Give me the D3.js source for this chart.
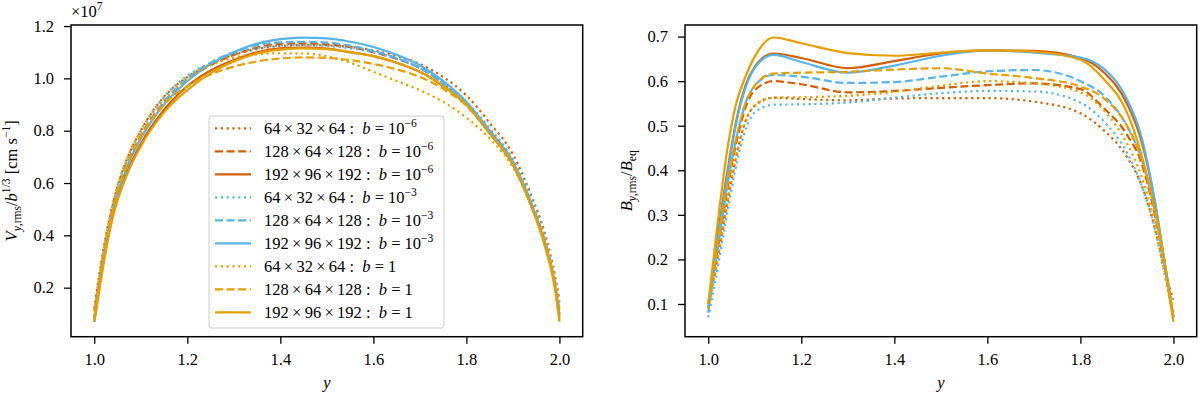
<!DOCTYPE html>
<html>
<head>
<meta charset="utf-8">
<script src="https://cdn.jsdelivr.net/npm/d3@7"></script>
<style>
  body { margin: 0; background: #fff; }
  svg text { white-space: pre; }
</style>
</head>
<body>
<script>
// y positions (horizontal axis) for each panel
const yGridV = [1.0, 1.01, 1.02, 1.04, 1.07, 1.1, 1.15, 1.2, 1.25, 1.3, 1.35, 1.4, 1.45, 1.5, 1.55, 1.6, 1.65, 1.7, 1.75, 1.8, 1.85, 1.9, 1.94, 1.97, 1.99, 2.0];
const yGridB = [1.0, 1.02, 1.04, 1.06, 1.08, 1.1, 1.14, 1.2, 1.3, 1.4, 1.5, 1.6, 1.7, 1.8, 1.85, 1.9, 1.93, 1.96, 1.98, 2.0];

// left panel: V_y,rms / b^(1/3), units of 1e7
const v64_m6  = [0.12,0.24,0.35,0.52,0.69,0.80,0.93,1.005,1.055,1.09,1.112,1.124,1.127,1.126,1.12,1.107,1.085,1.055,1.005,0.935,0.83,0.71,0.55,0.40,0.25,0.15];
const v128_m6 = [0.08,0.21,0.32,0.50,0.67,0.78,0.91,0.995,1.05,1.09,1.118,1.132,1.134,1.13,1.12,1.10,1.075,1.04,0.98,0.90,0.80,0.68,0.52,0.37,0.22,0.11];
const v192_m6 = [0.07,0.19,0.30,0.48,0.64,0.75,0.88,0.97,1.03,1.07,1.10,1.115,1.118,1.114,1.10,1.085,1.06,1.025,0.97,0.90,0.79,0.67,0.51,0.36,0.21,0.09];
const v64_m3  = [0.11,0.23,0.34,0.52,0.69,0.80,0.93,1.01,1.06,1.095,1.115,1.125,1.127,1.124,1.115,1.10,1.075,1.04,0.985,0.91,0.81,0.69,0.54,0.39,0.24,0.14];
const v128_m3 = [0.08,0.21,0.32,0.50,0.67,0.78,0.91,1.0,1.06,1.10,1.127,1.138,1.140,1.137,1.125,1.105,1.078,1.04,0.98,0.90,0.79,0.67,0.51,0.36,0.21,0.10];
const v192_m3 = [0.07,0.20,0.31,0.49,0.66,0.77,0.90,0.99,1.055,1.10,1.133,1.150,1.156,1.153,1.14,1.12,1.09,1.05,0.99,0.91,0.80,0.68,0.52,0.36,0.21,0.10];
const v64_b1  = [0.11,0.23,0.34,0.52,0.69,0.80,0.92,1.0,1.05,1.08,1.092,1.096,1.095,1.085,1.06,1.025,0.99,0.955,0.91,0.85,0.77,0.66,0.51,0.37,0.23,0.12];
const v128_b1 = [0.08,0.21,0.32,0.50,0.67,0.78,0.90,0.97,1.015,1.045,1.065,1.076,1.08,1.078,1.07,1.055,1.035,1.005,0.96,0.895,0.79,0.67,0.51,0.36,0.21,0.08];
const v192_b1 = [0.07,0.18,0.29,0.47,0.63,0.74,0.87,0.955,1.02,1.065,1.095,1.11,1.115,1.112,1.10,1.085,1.06,1.025,0.97,0.90,0.79,0.67,0.51,0.35,0.20,0.07];

// right panel: B_y,rms / B_eq
const b64_m6  = [0.10,0.20,0.32,0.43,0.51,0.545,0.563,0.56,0.557,0.561,0.562,0.562,0.554,0.528,0.49,0.43,0.37,0.27,0.18,0.11];
const b128_m6 = [0.10,0.22,0.35,0.46,0.54,0.58,0.60,0.593,0.575,0.578,0.585,0.591,0.595,0.582,0.54,0.48,0.42,0.30,0.19,0.07];
const b192_m6 = [0.09,0.25,0.39,0.51,0.59,0.632,0.662,0.652,0.629,0.645,0.662,0.669,0.668,0.652,0.62,0.55,0.47,0.33,0.20,0.07];
const b64_m3  = [0.07,0.18,0.30,0.41,0.49,0.53,0.547,0.548,0.552,0.563,0.573,0.578,0.577,0.552,0.51,0.44,0.37,0.27,0.17,0.07];
const b128_m3 = [0.09,0.22,0.36,0.47,0.55,0.59,0.614,0.61,0.596,0.598,0.61,0.622,0.625,0.60,0.568,0.50,0.43,0.31,0.20,0.07];
const b192_m3 = [0.08,0.24,0.38,0.505,0.585,0.63,0.659,0.643,0.619,0.635,0.657,0.669,0.664,0.653,0.628,0.56,0.48,0.33,0.20,0.07];
const b64_b1  = [0.09,0.20,0.32,0.43,0.51,0.545,0.563,0.564,0.567,0.576,0.59,0.60,0.595,0.575,0.535,0.46,0.39,0.28,0.18,0.08];
const b128_b1 = [0.10,0.23,0.36,0.47,0.55,0.59,0.617,0.619,0.621,0.626,0.629,0.617,0.607,0.588,0.562,0.50,0.43,0.31,0.20,0.07];
const b192_b1 = [0.10,0.28,0.44,0.55,0.61,0.655,0.698,0.685,0.663,0.657,0.664,0.669,0.666,0.648,0.605,0.53,0.44,0.31,0.19,0.06];

const resolutions = ["64\u2009×\u200932\u2009×\u200964", "128\u2009×\u200964\u2009×\u2009128", "192\u2009×\u200996\u2009×\u2009192"];
const bValues = [{ base: "10", exp: "\u22126" }, { base: "10", exp: "\u22123" }, { base: "1", exp: "" }];
const colors = ["#D55E00", "#56B4E9", "#E69F00"];
const dashes = ["2.2,3.6", "8,3.6", null];

const xTicks = [1.0, 1.2, 1.4, 1.6, 1.8, 2.0];
const vTicks = [0.2, 0.4, 0.6, 0.8, 1.0, 1.2];
const bTicks = [0.1, 0.2, 0.3, 0.4, 0.5, 0.6, 0.7];

const vSeries = [v64_m6, v128_m6, v192_m6, v64_m3, v128_m3, v192_m3, v64_b1, v128_b1, v192_b1];
const bSeries = [b64_m6, b128_m6, b192_m6, b64_m3, b128_m3, b192_m3, b64_b1, b128_b1, b192_b1];

const FS = 16.5;
const SERIF = '"Liberation Serif", serif';

const svg = d3.select("body").append("svg")
  .attr("width", 1200)
  .attr("height", 397)
  .style("font-family", SERIF);

// writes text with italic / super / sub parts
function rich(sel, parts, size) {
  let shift = 0;
  sel.style("font-family", SERIF);
  parts.forEach(p => {
    const target = p.sup ? -0.4 * size : p.sub ? 0.22 * size : 0;
    sel.append("tspan")
      .attr("dy", target - shift)
      .style("font-family", SERIF)
      .style("font-size", (p.sup || p.sub ? size * 0.7 : size) + "px")
      .style("font-style", p.i ? "italic" : "normal")
      .text(p.t);
    shift = target;
  });
}

function panel(box, yDomain, yTicks, xs, series) {
  const x = d3.scaleLinear().domain([0.95, 2.05]).range([box.left, box.right]);
  const y = d3.scaleLinear().domain(yDomain).range([box.bottom, box.top]);

  const g = svg.append("g");

  const clipId = "clip" + Math.round(box.left);
  g.append("clipPath").attr("id", clipId)
    .append("rect")
    .attr("x", box.left).attr("y", box.top)
    .attr("width", box.right - box.left).attr("height", box.bottom - box.top);

  const line = d3.line()
    .x((d, i) => x(xs[i]))
    .y(d => y(d))
    .curve(d3.curveMonotoneX);

  g.append("g").attr("clip-path", `url(#${clipId})`)
    .selectAll("path")
    .data(series)
    .join("path")
    .attr("d", d => line(d))
    .attr("fill", "none")
    .attr("stroke", (d, i) => colors[Math.floor(i / 3)])
    .attr("stroke-width", 2.2)
    .attr("stroke-dasharray", (d, i) => dashes[i % 3]);

  const xAxis = g.append("g")
    .attr("transform", `translate(0,${box.bottom})`)
    .call(d3.axisBottom(x).tickValues(xTicks).tickFormat(d3.format(".1f")).tickSize(7).tickPadding(10));
  const yAxis = g.append("g")
    .attr("transform", `translate(${box.left},0)`)
    .call(d3.axisLeft(y).tickValues(yTicks).tickFormat(d3.format(".1f")).tickSize(7).tickPadding(10));

  [xAxis, yAxis].forEach(a => {
    a.attr("font-family", null).attr("font-size", null);
    a.select(".domain").remove();
    a.selectAll("line").attr("stroke", "#000").attr("stroke-width", 1.3);
    a.selectAll("text").style("font-size", FS + "px").style("font-family", SERIF).attr("fill", "#000");
  });

  g.append("rect")
    .attr("x", box.left).attr("y", box.top)
    .attr("width", box.right - box.left).attr("height", box.bottom - box.top)
    .attr("fill", "none").attr("stroke", "#000").attr("stroke-width", 1.5);

  // axis label under the panel
  g.append("text")
    .attr("x", (box.left + box.right) / 2).attr("y", 388)
    .attr("text-anchor", "middle")
    .style("font-family", SERIF)
    .style("font-size", FS + "px").style("font-style", "italic")
    .text("y");

  return g;
}

const left = { left: 71, top: 25, right: 582.7, bottom: 336.7 };
const right = { left: 685, top: 25, right: 1196.7, bottom: 336.7 };

const gl = panel(left, [0.0126, 1.204], vTicks, yGridV, vSeries);
const gr = panel(right, [0.0266, 0.726], bTicks, yGridB, bSeries);

// offset text above left axis
rich(gl.append("text").attr("x", 71).attr("y", 17), [{ t: "×10" }, { t: "7", sup: true }], FS);

// y labels
rich(gl.append("text")
  .attr("transform", `translate(17,${(left.top + left.bottom) / 2}) rotate(-90)`)
  .attr("text-anchor", "middle"),
  [{ t: "V", i: true }, { t: "y", i: true, sub: true }, { t: ",rms", sub: true }, { t: "/" }, { t: "b", i: true },
   { t: "1/3", sup: true }, { t: " [cm s" }, { t: "\u22121", sup: true }, { t: "]" }], FS);

rich(gr.append("text")
  .attr("transform", `translate(632,${(right.top + right.bottom) / 2}) rotate(-90)`)
  .attr("text-anchor", "middle"),
  [{ t: "B", i: true }, { t: "y", i: true, sub: true }, { t: ",rms", sub: true }, { t: "/" }, { t: "B", i: true },
   { t: "eq", sub: true }], FS);

// legend
const lg = gl.append("g");
lg.append("rect")
  .attr("x", 209).attr("y", 116).attr("width", 235).attr("height", 212).attr("rx", 3)
  .attr("fill", "#fff").attr("fill-opacity", 0.8)
  .attr("stroke", "#cccccc").attr("stroke-width", 1);

const legendItems = [];
bValues.forEach((b, bi) => resolutions.forEach((r, ri) => legendItems.push({ r, b, color: colors[bi], dash: dashes[ri] })));

legendItems.forEach((it, i) => {
  const cy = 128.3 + i * 23;
  lg.append("line")
    .attr("x1", 215).attr("x2", 251).attr("y1", cy).attr("y2", cy)
    .attr("stroke", it.color).attr("stroke-width", 2.2)
    .attr("stroke-dasharray", it.dash);
  const t = lg.append("text").attr("x", 264).attr("y", cy + 5.5);
  const parts = [{ t: it.r + " :  " }, { t: "b", i: true }, { t: " = " + it.b.base }];
  if (it.b.exp) parts.push({ t: it.b.exp, sup: true });
  rich(t, parts, FS);
});
</script>
</body>
</html>
